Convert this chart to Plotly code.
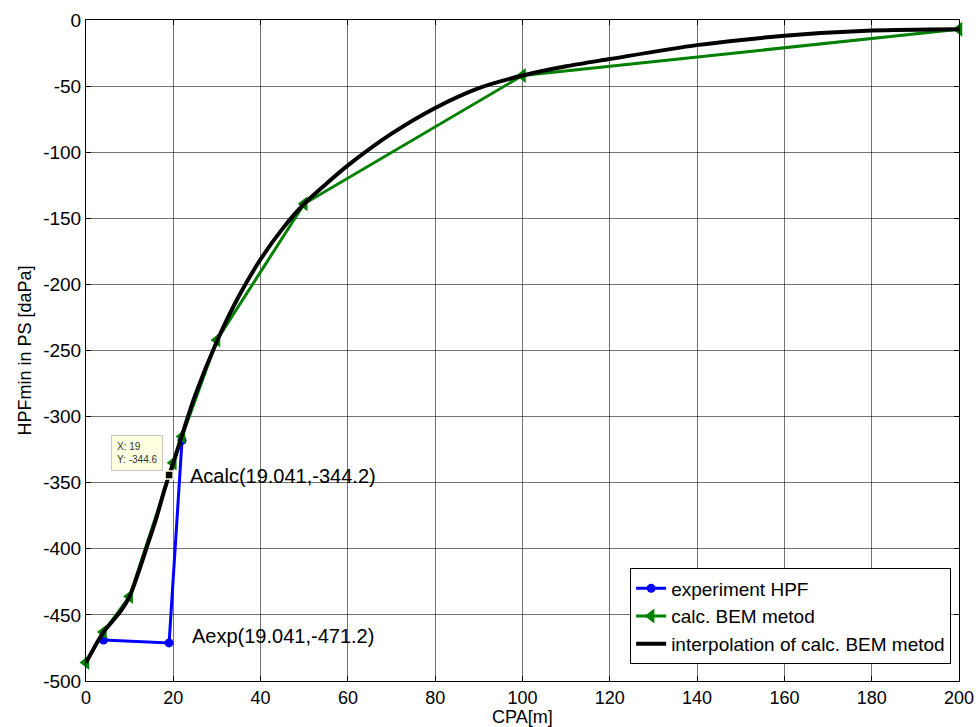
import plotly.graph_objects as go

# ---- data ----
exp_x = [4, 19.041, 22]
exp_y = [-469, -471.2, -318]

calc_x = [0, 4, 10, 20, 22, 30, 50, 100, 200]
calc_y = [-486, -463, -436, -335, -315, -242, -139, -42, -7]

interp_x = [0, 2, 4, 6, 8, 10, 12, 14, 16, 18, 19.041, 20, 22, 25, 30, 35, 40, 45,
            50, 55, 60, 70, 80, 90, 100, 110, 120, 140, 160, 180, 200]
interp_y = [-486, -474, -463, -455, -447, -436, -418, -398, -378, -355, -344.2, -335,
            -314, -284, -243, -209, -181, -158, -139, -124, -110, -86, -66.5, -51.5,
            -42, -35, -29.5, -19, -12, -8, -7]

tip_x = [19.041]
tip_y = [-344.2]

x_ticks = [0, 20, 40, 60, 80, 100, 120, 140, 160, 180, 200]
y_ticks = [-500, -450, -400, -350, -300, -250, -200, -150, -100, -50, 0]

FONT = "Liberation Sans, Arial, sans-serif"

fig = go.Figure()
fig.add_trace(go.Scatter(x=exp_x, y=exp_y, mode="lines+markers", name="experiment HPF",
                         line=dict(color="#0000FF", width=3), cliponaxis=False,
                         marker=dict(symbol="circle", size=9, color="#0000FF")))
fig.add_trace(go.Scatter(x=calc_x, y=calc_y, mode="lines+markers", name="calc. BEM metod",
                         line=dict(color="#008000", width=3), cliponaxis=False,
                         marker=dict(symbol="triangle-left", size=13, color="#008000")))
fig.add_trace(go.Scatter(x=interp_x, y=interp_y, mode="lines",
                         name="interpolation of calc. BEM metod",
                         line=dict(color="black", width=4, shape="spline", smoothing=0.8)))
fig.add_trace(go.Scatter(x=tip_x, y=tip_y, mode="markers", showlegend=False,
                         marker=dict(symbol="square", size=8, color="black",
                                     line=dict(color="#FFFFE1", width=1.5))))

fig.add_annotation(x=23.4, y=-345, xref="x", yref="y", text="Acalc(19.041,-344.2)",
                   showarrow=False, xanchor="left", yanchor="middle",
                   font=dict(family=FONT, size=20, color="black"))
fig.add_annotation(x=23.8, y=-466, xref="x", yref="y", text="Aexp(19.041,-471.2)",
                   showarrow=False, xanchor="left", yanchor="middle",
                   font=dict(family=FONT, size=20, color="black"))
fig.add_annotation(x=17.64, y=-341.2, xref="x", yref="y", text="X: 19<br>Y: -344.6",
                   showarrow=False, xanchor="right", yanchor="bottom", align="left",
                   bgcolor="#FFFFE1", bordercolor="#C8C8C8", borderwidth=1, borderpad=5,
                   font=dict(family=FONT, size=10, color="#333333"))
# x-axis title placed as text just under the tick labels
fig.add_annotation(x=0.5, y=0, xref="paper", yref="paper", yshift=-36,
                   text="CPA[m]", showarrow=False, xanchor="center", yanchor="middle",
                   font=dict(family=FONT, size=18, color="black"))

axis_common = dict(showline=True, linecolor="black", linewidth=1, mirror="ticks",
                   ticks="inside", ticklen=5, tickcolor="black", automargin=False,
                   showgrid=True, gridcolor="rgba(0,0,0,0.55)", gridwidth=1,
                   zeroline=False)

fig.update_xaxes(range=[0, 200], tickvals=x_ticks, ticktext=[str(v) for v in x_ticks],
                 tickfont=dict(family=FONT, size=18, color="black"),
                 **axis_common)
fig.update_yaxes(range=[-500, 0], tickvals=y_ticks, ticktext=[str(v) for v in y_ticks],
                 tickfont=dict(family=FONT, size=19, color="black"),
                 title=dict(text="HPFmin in PS [daPa]",
                            font=dict(family=FONT, size=18, color="black"), standoff=6),
                 **axis_common)

fig.update_layout(
    width=978, height=727,
    margin=dict(l=86, r=19, t=20, b=46),
    paper_bgcolor="white", plot_bgcolor="white",
    font=dict(family=FONT, color="black"),
    legend=dict(x=0.991, xanchor="right", y=0.025, yanchor="bottom",
                bgcolor="white", bordercolor="black", borderwidth=1,
                font=dict(family=FONT, size=19, color="black"),
                tracegroupgap=0, itemwidth=30),
)

fig.write_html("out.html")
